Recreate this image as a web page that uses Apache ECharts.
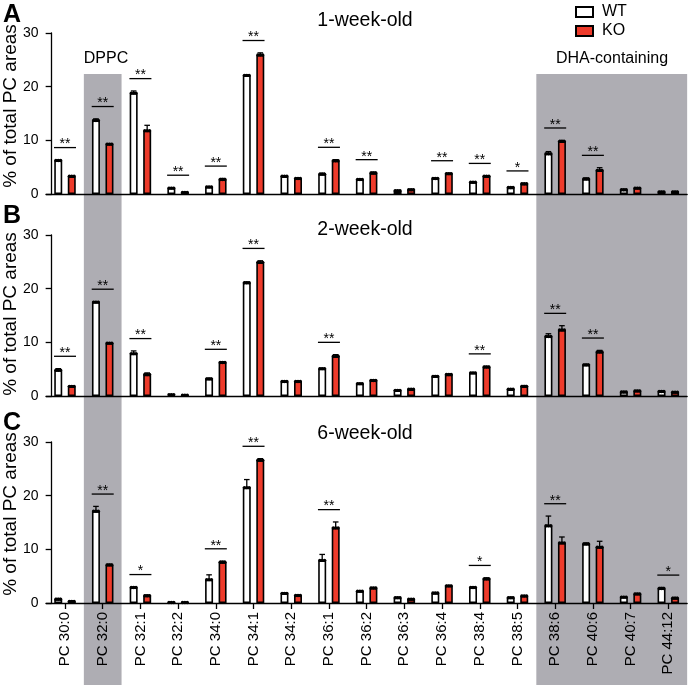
<!DOCTYPE html>
<html>
<head>
<meta charset="utf-8">
<script src="https://cdn.jsdelivr.net/npm/echarts@6/dist/echarts.min.js"></script>
<style>html,body{margin:0;padding:0;background:#fff}#c{width:690px;height:685px}</style>
</head>
<body>
<div id="c"></div>
<script>
var categories = ['PC 30:0','PC 32:0','PC 32:1','PC 32:2','PC 34:0','PC 34:1','PC 34:2','PC 36:1','PC 36:2','PC 36:3','PC 36:4','PC 38:4','PC 38:5','PC 38:6','PC 40:6','PC 40:7','PC 44:12'];
var yTicks = [0, 10, 20, 30];
var panelTitles = ['1-week-old', '2-week-old', '6-week-old'];
var panelLetters = ['A', 'B', 'C'];
var shadedGroups = [[1, 1], [13, 16]];
var shadeLabels = ['DPPC', 'DHA-containing'];

// Panel A (1-week-old)
var wtA   = [6.25, 13.7, 18.8, 1.1, 1.3, 22.1, 3.3, 3.7, 2.7, 0.6, 2.9, 2.2, 1.2, 7.5, 2.8, 0.8, 0.4];
var wtSdA = [0.1, 0.3, 0.4, 0.1, 0.1, 0.1, 0.1, 0.2, 0.1, 0.1, 0.1, 0.1, 0.1, 0.4, 0.2, 0.1, 0.1];
var koA   = [3.3, 9.3, 11.8, 0.3, 2.7, 25.9, 2.9, 6.2, 3.9, 0.8, 3.8, 3.3, 1.9, 9.8, 4.4, 1.1, 0.4];
var koSdA = [0.1, 0.1, 1.0, 0.05, 0.2, 0.4, 0.1, 0.2, 0.2, 0.1, 0.1, 0.1, 0.1, 0.2, 0.5, 0.1, 0.1];
var sigA  = ['**','**','**','**','**','**','','**','**','','**','**','*','**','**','',''];

// Panel B (2-week-old)
var wtB   = [4.8, 17.5, 7.9, 0.25, 3.2, 21.1, 2.7, 5.1, 2.3, 1.05, 3.65, 4.3, 1.25, 11.1, 5.8, 0.75, 0.85];
var wtSdB = [0.3, 0.1, 0.5, 0.05, 0.15, 0.15, 0.1, 0.1, 0.1, 0.1, 0.15, 0.1, 0.1, 0.5, 0.15, 0.1, 0.1];
var koB   = [1.8, 9.85, 4.0, 0.15, 6.25, 24.9, 2.7, 7.4, 2.9, 1.25, 4.0, 5.4, 1.8, 12.3, 8.2, 0.95, 0.7];
var koSdB = [0.1, 0.1, 0.3, 0.05, 0.15, 0.3, 0.1, 0.3, 0.1, 0.1, 0.1, 0.15, 0.15, 0.8, 0.3, 0.1, 0.1];
var sigB  = ['**','**','**','','**','**','','**','','','','**','','**','**','',''];

// Panel C (6-week-old)
var wtC   = [0.7, 17.1, 2.9, 0.1, 4.35, 21.5, 1.8, 7.95, 2.2, 1.0, 1.85, 2.9, 1.0, 14.4, 11.0, 1.1, 2.7];
var wtSdC = [0.15, 0.9, 0.1, 0.05, 0.9, 1.5, 0.1, 1.1, 0.1, 0.1, 0.1, 0.1, 0.1, 1.8, 0.2, 0.1, 0.2];
var koC   = [0.3, 7.1, 1.35, 0.1, 7.6, 26.6, 1.4, 14.0, 2.8, 0.7, 3.2, 4.5, 1.3, 11.2, 10.4, 1.7, 0.9];
var koSdC = [0.1, 0.15, 0.15, 0.05, 0.2, 0.3, 0.1, 1.1, 0.1, 0.1, 0.1, 0.2, 0.1, 1.1, 1.1, 0.1, 0.15];
var sigC  = ['','**','*','','**','**','','**','','','','*','','**','','','*'];

var panels = [
  {wt: wtA, wtSd: wtSdA, ko: koA, koSd: koSdA, sig: sigA},
  {wt: wtB, wtSd: wtSdB, ko: koB, koSd: koSdB, sig: sigB},
  {wt: wtC, wtSd: wtSdC, ko: koC, koSd: koSdC, sig: sigC}
];

var FONT = "'Liberation Sans', Arial, Helvetica, sans-serif";
var RED = '#EE3B2B';
var SHADE = '#AEADB3';
var gridTops = [33, 235, 442];
var gridH = 161;
var GL = 46.15, GW = 641;
var titleY = [21, 230, 434];
var letterY = [16, 216.5, 424];
var nameY = [106, 314, 514];
var BAR_OFF = 6.75;

var grids = [], xAxes = [], yAxes = [], series = [], graphics = [];

panels.forEach(function (p, i) {
  grids.push({left: GL, width: GW, top: gridTops[i], height: gridH});
  xAxes.push({
    type: 'category', gridIndex: i, data: categories, boundaryGap: true, z: 3,
    axisLine: {show: true, lineStyle: {color: '#000', width: 1.3}},
    axisTick: {show: i === 2, alignWithLabel: true, length: 6, lineStyle: {color: '#000', width: 1.3}},
    axisLabel: {show: i === 2, interval: 0, rotate: 90, margin: 9, fontSize: 15, color: '#000', fontFamily: FONT},
    splitLine: {show: false}
  });
  yAxes.push({
    type: 'value', gridIndex: i, min: yTicks[0], max: yTicks[yTicks.length - 1], interval: 10, offset: -5.5, z: 3,
    axisLine: {show: true, lineStyle: {color: '#000', width: 1.3}},
    axisTick: {show: true, length: 6, lineStyle: {color: '#000', width: 1.3}},
    axisLabel: {margin: 13, fontSize: 14, color: '#000', fontFamily: FONT},
    splitLine: {show: false}
  });
});
// shading grid (index 3)
grids.push({left: GL, width: GW, top: 74, bottom: 0});
xAxes.push({type: 'category', gridIndex: 3, data: categories, show: false, boundaryGap: true});
yAxes.push({type: 'value', gridIndex: 3, min: 0, max: 1, show: false});

series.push({
  type: 'custom', xAxisIndex: 3, yAxisIndex: 3, z: 1, silent: true,
  data: shadedGroups.map(function (g) { return [g[0], g[1]]; }),
  encode: {x: [0, 1]},
  renderItem: function (params, api) {
    var bw = api.size([1, 0])[0];
    var a = api.coord([api.value(0), 1]);
    var b = api.coord([api.value(1), 0]);
    var x0 = a[0] - bw / 2, x1 = b[0] + bw / 2;
    return {type: 'rect', shape: {x: x0, y: a[1], width: x1 - x0, height: b[1] - a[1]}, style: {fill: SHADE}};
  }
});

panels.forEach(function (p, i) {
  series.push({
    name: 'WT', type: 'bar', xAxisIndex: i, yAxisIndex: i, data: p.wt, barWidth: 8, barGap: '69%', z: 4,
    itemStyle: {color: '#fff', borderColor: '#000', borderWidth: 1.6}
  });
  series.push({
    name: 'KO', type: 'bar', xAxisIndex: i, yAxisIndex: i, data: p.ko, barWidth: 8, barGap: '69%', z: 4,
    itemStyle: {color: RED, borderColor: '#000', borderWidth: 1.6}
  });
  // error bars + dots
  var eb = [];
  p.wt.forEach(function (v, k) { eb.push([k, v, p.wtSd[k], -1]); });
  p.ko.forEach(function (v, k) { eb.push([k, v, p.koSd[k], 1]); });
  series.push({
    type: 'custom', xAxisIndex: i, yAxisIndex: i, z: 5, silent: true, data: eb,
    encode: {x: 0, y: 1},
    renderItem: function (params, api) {
      var idx = api.value(0), m = api.value(1), sd = api.value(2), side = api.value(3);
      var p0 = api.coord([idx, m]);
      var p1 = api.coord([idx, m + sd]);
      var x = p0[0] + side * BAR_OFF;
      var st = {stroke: '#000', lineWidth: 1.3};
      var ch = [
        {type: 'line', shape: {x1: x, y1: p0[1], x2: x, y2: p1[1]}, style: st},
        {type: 'line', shape: {x1: x - 2.8, y1: p1[1], x2: x + 2.8, y2: p1[1]}, style: st}
      ];
      [-2.4, 0, 2.4].forEach(function (d) {
        ch.push({type: 'circle', shape: {cx: x + d, cy: p0[1], r: 1.7}, style: {fill: '#000'}});
      });
      return {type: 'group', children: ch};
    }
  });
  // significance
  var sd = [], labs = [];
  p.sig.forEach(function (s, k) {
    if (s) {
      var top = Math.max(p.wt[k] + p.wtSd[k], p.ko[k] + p.koSd[k]);
      sd.push([k, top + 2.3]);
      labs.push(s);
    }
  });
  series.push({
    type: 'custom', xAxisIndex: i, yAxisIndex: i, z: 5, silent: true, data: sd,
    encode: {x: 0, y: 1},
    renderItem: (function (labs) {
      return function (params, api) {
        var c = api.coord([api.value(0), api.value(1)]);
        return {type: 'group', children: [
          {type: 'line', shape: {x1: c[0] - 11, y1: c[1], x2: c[0] + 11, y2: c[1]}, style: {stroke: '#000', lineWidth: 1.3}},
          {type: 'text', style: {text: labs[params.dataIndex], x: c[0], y: c[1] - 3, align: 'center', verticalAlign: 'middle', fontSize: 14, fontFamily: FONT, fill: '#000'}}
        ]};
      };
    })(labs)
  });

  graphics.push({type: 'text', left: 3, top: letterY[i] - 13, z: 10,
    style: {text: panelLetters[i], fontSize: 25, fontWeight: 'bold', fontFamily: FONT, fill: '#000'}});
  graphics.push({type: 'text', x: 365, y: titleY[i], z: 10,
    style: {text: panelTitles[i], fontSize: 19.5, fontFamily: FONT, fill: '#000', align: 'center', verticalAlign: 'middle'}});
  graphics.push({type: 'text', x: 10.5, y: nameY[i], rotation: Math.PI / 2, z: 10,
    style: {text: '% of total PC areas', fontSize: 19, fontFamily: FONT, fill: '#000', align: 'center', verticalAlign: 'middle'}});
});

graphics.push({type: 'text', x: 106, y: 59, z: 10,
  style: {text: shadeLabels[0], fontSize: 16, fontFamily: FONT, fill: '#000', align: 'center', verticalAlign: 'middle'}});
graphics.push({type: 'text', x: 612, y: 59, z: 10,
  style: {text: shadeLabels[1], fontSize: 16, fontFamily: FONT, fill: '#000', align: 'center', verticalAlign: 'middle'}});

var chart = echarts.init(document.getElementById('c'), null, {renderer: 'canvas'});
chart.setOption({
  animation: false,
  backgroundColor: '#fff',
  grid: grids,
  xAxis: xAxes,
  yAxis: yAxes,
  legend: {
    data: ['WT', 'KO'], orient: 'vertical', left: 575, top: 4, padding: 0,
    itemWidth: 17, itemHeight: 10, itemGap: 3, icon: 'rect',
    textStyle: {fontSize: 16, color: '#000', fontFamily: FONT, padding: [0, 0, 0, 4]}
  },
  graphic: graphics,
  series: series
});
</script>
</body>
</html>
